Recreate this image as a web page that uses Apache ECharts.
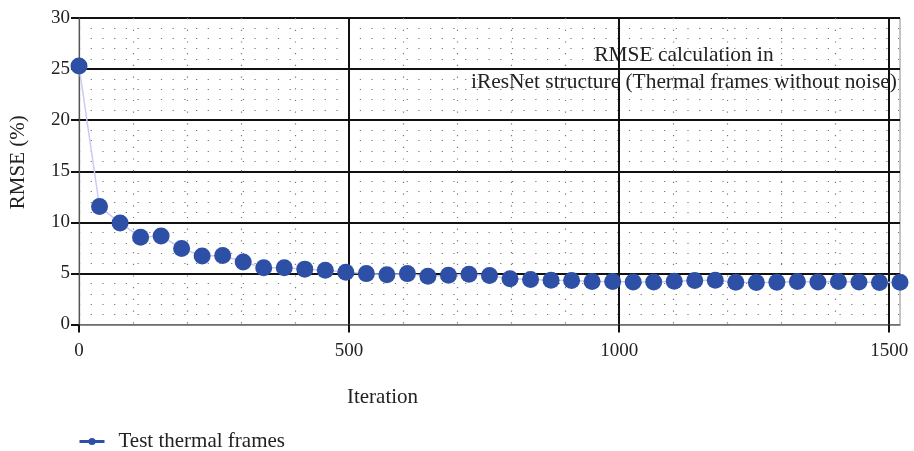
<!DOCTYPE html>
<html>
<head>
<meta charset="utf-8">
<script src="https://cdn.jsdelivr.net/npm/echarts@6/dist/echarts.min.js"></script>
<style>html,body{margin:0;padding:0;background:#fff;}#c{width:914px;height:451px;}</style>
</head>
<body>
<div id="c"></div>
<script>
const iterations = [0,38,76,114,152,190,228,266,304,342,380,418,456,494,532,570,608,646,684,722,760,798,836,874,912,950,988,1026,1064,1102,1140,1178,1216,1254,1292,1330,1368,1406,1444,1482,1520];
const rmse = [25.3,11.55,9.93,8.55,8.67,7.45,6.70,6.76,6.11,5.56,5.56,5.42,5.31,5.11,4.98,4.86,4.98,4.72,4.82,4.92,4.79,4.47,4.40,4.33,4.30,4.20,4.20,4.17,4.17,4.23,4.30,4.33,4.13,4.11,4.13,4.20,4.17,4.20,4.17,4.11,4.13];
const xTicks = [0,500,1000,1500];
const seriesName = 'Test thermal frames';
const xName = 'Iteration';
const yName = 'RMSE (%)';
const noteLines = ['RMSE calculation in', 'iResNet structure (Thermal frames without noise)'];

const FONT = 'Liberation Serif';
const chart = echarts.init(document.getElementById('c'), null, {renderer: 'canvas'});
const dotted = {color: '#777', width: 1.2, type: [1.2, 10.5]};
chart.setOption({
  animation: false,
  backgroundColor: '#fff',
  textStyle: {fontFamily: FONT, color: '#222'},
  grid: {left: 78, right: 14, top: 18, bottom: 126.5, show: true, borderColor: '#8a8a8a', borderWidth: 1, backgroundColor: 'transparent'},
  legend: {
    left: 73, top: 426, padding: 5,
    itemWidth: 25, itemHeight: 9,
    lineStyle: {color: '#2E4FA6', width: 3},
    itemStyle: {color: '#2E4FA6'},
    textStyle: {fontFamily: FONT, fontSize: 21, color: '#222', padding: [0, 0, 0, 9]},
    data: [seriesName]
  },
  xAxis: {
    type: 'value', min: 0, max: 1520, interval: 500,
    name: xName, nameLocation: 'middle', nameGap: 62,
    nameTextStyle: {fontFamily: FONT, fontSize: 21, color: '#222', padding: [0, 214, 0, 0]},
    axisLine: {show: true, onZero: false, lineStyle: {color: '#666', width: 1.5}},
    axisTick: {show: true, length: 8, customValues: xTicks, lineStyle: {color: '#111', width: 2}},
    axisLabel: {fontFamily: FONT, fontSize: 19, color: '#222', margin: 17, customValues: xTicks, formatter: v => String(v)},
    splitLine: {show: true, showMinLine: false, showMaxLine: true, lineStyle: {color: '#111', width: 2}},
    minorTick: {show: false, splitNumber: 5},
    minorSplitLine: {show: true, lineStyle: dotted}
  },
  yAxis: {
    type: 'value', min: 0, max: 30, interval: 5,
    name: yName, nameLocation: 'middle', nameGap: 50,
    nameTextStyle: {fontFamily: FONT, fontSize: 21, color: '#222', padding: [0, 0, 0, 18]},
    axisLine: {show: true, onZero: false, lineStyle: {color: '#555', width: 1.2}},
    axisTick: {show: true, length: 8, lineStyle: {color: '#111', width: 2}},
    axisLabel: {fontFamily: FONT, fontSize: 19, color: '#222', margin: 9},
    splitLine: {show: true, showMinLine: false, showMaxLine: true, lineStyle: {color: '#111', width: 2}},
    minorTick: {show: false, splitNumber: 5},
    minorSplitLine: {show: true, lineStyle: dotted}
  },
  graphic: [
    {type: 'text', x: 684, y: 55, style: {text: noteLines[0], font: '21.4px "Liberation Serif"', fill: '#222', textAlign: 'center', textVerticalAlign: 'middle'}, z: 10},
    {type: 'text', x: 684, y: 82, style: {text: noteLines[1], font: '21.4px "Liberation Serif"', fill: '#222', textAlign: 'center', textVerticalAlign: 'middle'}, z: 10}
  ],
  series: [{
    name: seriesName,
    type: 'line',
    data: iterations.map((x, i) => [x, rmse[i]]),
    symbol: 'circle', symbolSize: 17,
    clip: false,
    itemStyle: {color: '#2E4FA6'},
    lineStyle: {color: '#C9CBF2', width: 1.5},
    z: 5
  }]
});
</script>
</body>
</html>
